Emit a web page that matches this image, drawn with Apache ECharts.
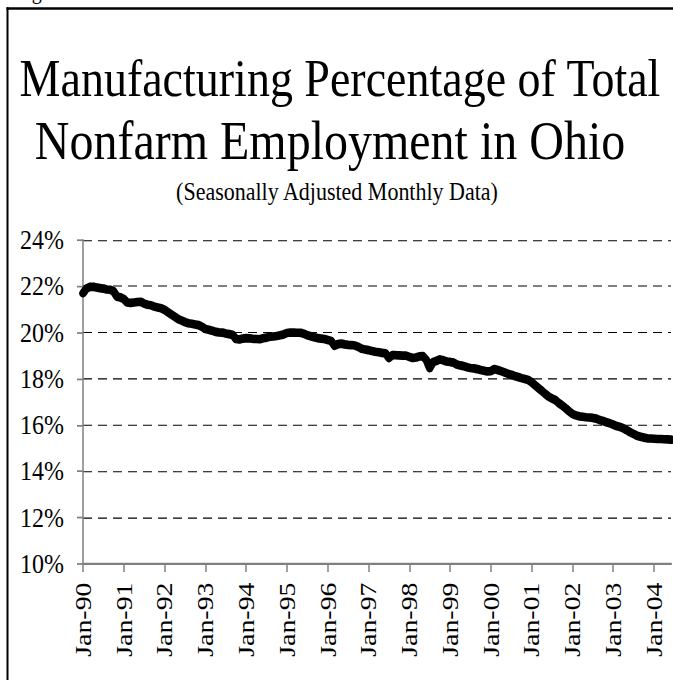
<!DOCTYPE html>
<html>
<head>
<meta charset="utf-8">
<script src="https://cdn.jsdelivr.net/npm/echarts@6/dist/echarts.min.js"></script>
<style>
  html, body { margin: 0; padding: 0; background: #fff; overflow: hidden; width: 673px; height: 680px; }
  /* the figure is laid out at 586px tall and stretched to fill 680px, giving the tall, narrow lettering */
  #chart { width: 673px; height: 586px; transform: scaleY(1.16041); transform-origin: 0 0; }
</style>
</head>
<body>
<div id="chart"></div>
<script>
// Manufacturing share of Ohio nonfarm employment, percent, seasonally adjusted, Jan 1990 onward
const years = ['90','91','92','93','94','95','96','97','98','99','00','01','02','03','04'];
const monthNames = ['Jan','Feb','Mar','Apr','May','Jun','Jul','Aug','Sep','Oct','Nov','Dec'];

const share1990 = [21.70, 21.90, 21.97, 21.98, 21.95, 21.92, 21.90, 21.86, 21.85, 21.78, 21.55, 21.52];
const share1991 = [21.45, 21.30, 21.28, 21.30, 21.32, 21.33, 21.25, 21.20, 21.18, 21.12, 21.08, 21.05];
const share1992 = [20.98, 20.88, 20.78, 20.68, 20.58, 20.52, 20.45, 20.40, 20.38, 20.35, 20.32, 20.25];
const share1993 = [20.15, 20.12, 20.08, 20.03, 20.01, 20.00, 19.96, 19.93, 19.90, 19.72, 19.70, 19.74];
const share1994 = [19.76, 19.75, 19.73, 19.72, 19.71, 19.75, 19.78, 19.82, 19.83, 19.85, 19.88, 19.92];
const share1995 = [19.98, 20.00, 20.00, 19.99, 19.99, 19.95, 19.88, 19.84, 19.80, 19.76, 19.74, 19.72];
const share1996 = [19.68, 19.64, 19.43, 19.50, 19.52, 19.49, 19.47, 19.46, 19.44, 19.38, 19.30, 19.27];
const share1997 = [19.24, 19.20, 19.17, 19.15, 19.12, 19.10, 18.90, 19.02, 19.02, 19.01, 19.00, 19.00];
const share1998 = [18.95, 18.90, 18.92, 18.97, 18.98, 18.82, 18.46, 18.72, 18.78, 18.84, 18.80, 18.75];
const share1999 = [18.73, 18.70, 18.62, 18.58, 18.55, 18.50, 18.47, 18.45, 18.42, 18.38, 18.35, 18.32];
const share2000 = [18.33, 18.42, 18.38, 18.33, 18.28, 18.22, 18.18, 18.12, 18.08, 18.03, 17.99, 17.95];
const share2001 = [17.85, 17.72, 17.60, 17.48, 17.35, 17.23, 17.15, 17.08, 16.95, 16.85, 16.73, 16.60];
const share2002 = [16.48, 16.42, 16.38, 16.36, 16.34, 16.33, 16.31, 16.28, 16.22, 16.18, 16.12, 16.08];
const share2003 = [16.02, 15.96, 15.92, 15.86, 15.78, 15.69, 15.62, 15.54, 15.50, 15.46, 15.43, 15.42];
const share2004 = [15.41, 15.40, 15.40, 15.39, 15.38, 15.37];

const yMin = 10, yMax = 24, yStep = 2;

const shareValues = [].concat(
  share1990, share1991, share1992, share1993, share1994, share1995, share1996, share1997,
  share1998, share1999, share2000, share2001, share2002, share2003, share2004
);

const months = [];
years.forEach(y => monthNames.forEach(m => months.push(m + '-' + y)));
months.length = shareValues.length;

const isJanuary = (idx, val) => String(val).indexOf('Jan') === 0;
const serif = 'Liberation Serif, Times New Roman, serif';

const chart = echarts.init(document.getElementById('chart'), null, { renderer: 'svg' });
chart.setOption({
  animation: false,
  backgroundColor: '#fff',
  grid: { left: 83, right: 2, top: 206.8, bottom: 100, containLabel: false },
  graphic: [
    // frame: left edge and top edge
    { type: 'line', silent: true, z: 0,
      shape: { x1: 7.5, y1: 6.3, x2: 7.5, y2: 700 },
      style: { stroke: '#000', lineWidth: 2 } },
    { type: 'line', silent: true, z: 0,
      shape: { x1: 6.5, y1: 7.3, x2: 690, y2: 7.3 },
      style: { stroke: '#000', lineWidth: 2 } },
    { type: 'text', x: 15, y: -7.7, silent: true,
      style: { text: 'Figure 1', font: '20px ' + serif, fill: '#000', align: 'left', verticalAlign: 'middle' } },
    { type: 'text', x: 340, y: 67.5, silent: true,
      style: { text: 'Manufacturing Percentage of Total', font: '46px ' + serif, fill: '#000', align: 'center', verticalAlign: 'middle' } },
    { type: 'text', x: 330, y: 120.5, silent: true,
      style: { text: 'Nonfarm Employment in Ohio', font: '48px ' + serif, fill: '#000', align: 'center', verticalAlign: 'middle' } },
    { type: 'text', x: 337, y: 164.9, silent: true,
      style: { text: '(Seasonally Adjusted Monthly Data)', font: '22px ' + serif, fill: '#000', align: 'center', verticalAlign: 'middle' } }
  ],
  xAxis: {
    type: 'category',
    data: months,
    boundaryGap: false,
    axisLine: { lineStyle: { color: '#808080', width: 2 } },
    axisTick: { show: true, interval: isJanuary, length: 7, lineStyle: { color: '#808080', width: 1.5 } },
    axisLabel: { interval: isJanuary, rotate: 90, margin: 16, color: '#000', fontFamily: serif, fontSize: 24 },
    splitLine: { show: false }
  },
  yAxis: {
    type: 'value',
    min: yMin, max: yMax, interval: yStep,
    axisLine: { show: true, lineStyle: { color: '#808080', width: 1.5 } },
    axisTick: { show: true, length: 6, lineStyle: { color: '#808080', width: 1.5 } },
    axisLabel: { formatter: '{value}%', margin: 19, color: '#000', fontFamily: serif, fontSize: 24 },
    splitLine: { show: true, lineStyle: { color: '#000', width: 1, type: [9, 6] } }
  },
  series: [{
    type: 'line',
    data: shareValues,
    showSymbol: false,
    smooth: false,
    lineStyle: { color: '#000', width: 7.5, cap: 'round', join: 'round' }
  }]
});
</script>
</body>
</html>
